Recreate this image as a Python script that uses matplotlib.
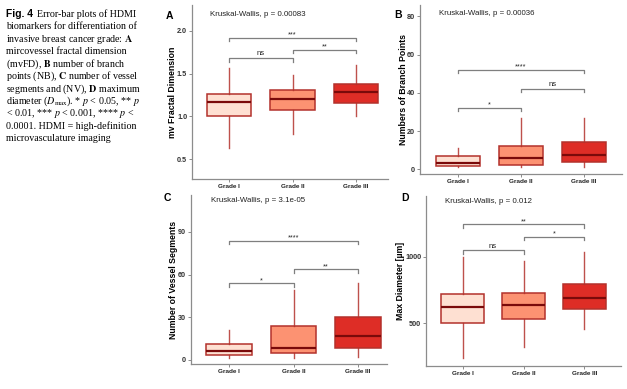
import matplotlib
matplotlib.use("Agg")
from matplotlib import pyplot as plt

plt.rcParams['font.family'] = ['Liberation Sans', 'DejaVu Sans']
plt.rcParams['mathtext.fontset'] = 'stix'

GRADES = ["Grade I", "Grade II", "Grade III"]
FILLS = ["#fee0d2", "#fc9272", "#de2d26"]
EDGE = "#b3322c"
MEDIAN = "#7a0a0a"
AXIS = "#8c8c8c"

# five-number summaries per grade: whisker low, Q1, median, Q3, whisker high
FD_LOW = [0.63, 0.79, 1.00]
FD_Q1 = [1.01, 1.07, 1.16]
FD_MED = [1.17, 1.20, 1.29]
FD_Q3 = [1.26, 1.31, 1.38]
FD_HIGH = [1.56, 1.48, 1.60]

NB_LOW = [1, 1, 1]
NB_Q1 = [1.5, 2, 4]
NB_MED = [3, 6, 7.5]
NB_Q3 = [7, 12, 14.5]
NB_HIGH = [11, 27, 27]

NV_LOW = [1, 1, 2]
NV_Q1 = [3, 5, 8]
NV_MED = [6, 8, 17]
NV_Q3 = [11, 23.5, 30]
NV_HIGH = [21, 49, 54]

MD_LOW = [235, 320, 455]
MD_Q1 = [500, 535, 610]
MD_MED = [622, 640, 688]
MD_Q3 = [718, 730, 793]
MD_HIGH = [1000, 968, 1040]

# pairwise comparisons: (group a, group b, bracket height, label)
FD_PAIRS = [(1, 2, 1.68, "ns"), (2, 3, 1.78, "**"), (1, 3, 1.92, "***")]
NB_PAIRS = [(1, 2, 32, "*"), (2, 3, 42, "ns"), (1, 3, 52, "****")]
NV_PAIRS = [(1, 2, 53.7, "*"), (2, 3, 63.7, "**"), (1, 3, 83.6, "****")]
MD_PAIRS = [(1, 2, 1050, "ns"), (2, 3, 1150, "*"), (1, 3, 1244, "**")]

KW_TEXT = ["Kruskal-Wallis, p = 0.00083", "Kruskal-Wallis, p = 0.00036",
           "Kruskal-Wallis, p = 3.1e-05", "Kruskal-Wallis, p = 0.012"]

CAPTION_HEAD = "Fig. 4"
CAPTION_FIRST = "Error-bar plots of HDMI"
CAPTION_LINES = [
    "biomarkers for differentiation of",
    r"invasive breast cancer grade: $\mathbf{A}$",
    "mircovessel fractal dimension",
    r"(mvFD), $\mathbf{B}$ number of branch",
    r"points (NB), $\mathbf{C}$ number of vessel",
    r"segments and (NV), $\mathbf{D}$ maximum",
    r"diameter ($D_{\mathrm{max}}$). * $p$ < 0.05, ** $p$",
    r"< 0.01, *** $p$ < 0.001, **** $p$ <",
    "0.0001. HDMI = high-definition",
    "microvasculature imaging",
]

W, H = 627, 389
fig = plt.figure(figsize=(W / 100, H / 100), dpi=100)


def px_rect(left, right, bottom, top):
    return [left / W, 1 - bottom / H, (right - left) / W, (bottom - top) / H]


def panel(rect, tag, tag_xy, low, q1, med, q3, high, pairs, kw, kw_xy,
          ylabel, ylab_x, ylim, xlim, yticks, fmt):
    ax = fig.add_axes(rect)
    stats = [dict(whislo=a, q1=b, med=c, q3=d, whishi=e, fliers=[])
             for a, b, c, d, e in zip(low, q1, med, q3, high)]
    res = ax.bxp(stats, positions=[1, 2, 3], widths=0.7, patch_artist=True,
                 showcaps=False, showfliers=False,
                 boxprops=dict(edgecolor=EDGE, linewidth=1.1),
                 medianprops=dict(color=MEDIAN, linewidth=1.6),
                 whiskerprops=dict(color=EDGE, linewidth=1.0, alpha=0.85))
    for box, fill in zip(res['boxes'], FILLS):
        box.set_facecolor(fill)

    span = ylim[1] - ylim[0]
    d = 0.02 * span
    for a, b, y, lab in pairs:
        ax.plot([a, a, b, b], [y - d, y, y, y - d], color="#7f7f7f", lw=0.9)
        off = 0.004 * span if lab == "ns" else -0.004 * span
        ax.text((a + b) / 2, y + off, lab, ha="center", va="bottom",
                fontsize=5.6 if lab == "ns" else 5.2, color="#222222")

    ax.text(kw_xy[0], kw_xy[1], kw, transform=ax.transAxes, ha="left",
            va="center", fontsize=5.7, color="#222222")

    ax.set_xlim(*xlim)
    ax.set_ylim(*ylim)
    ax.set_xticks([1, 2, 3])
    ax.set_xticklabels(GRADES, fontsize=4.6, fontweight="bold", color="#222222")
    ax.set_yticks(yticks)
    ax.set_yticklabels([fmt.format(v) for v in yticks], fontsize=5.2,
                       fontweight="bold", color="#333333")
    ax.tick_params(length=2, width=0.7, color=AXIS, pad=1.5)
    for s in ("top", "right"):
        ax.spines[s].set_visible(False)
    for s in ("left", "bottom"):
        ax.spines[s].set_color(AXIS)
        ax.spines[s].set_linewidth(0.9)
    ax.set_ylabel(ylabel, fontsize=6.3, fontweight="bold", va="center")
    ax.yaxis.set_label_coords(ylab_x, 0.5)
    fig.text(tag_xy[0] / W, 1 - tag_xy[1] / H, tag, fontsize=7.5,
             fontweight="bold", ha="left", va="center")
    return ax


panel(px_rect(192, 388, 179, 5), "A", (166, 16), FD_LOW, FD_Q1, FD_MED, FD_Q3,
      FD_HIGH, FD_PAIRS, KW_TEXT[0], (0.09, 0.948), "mv Fractal Dimension",
      -0.10, (0.27, 2.3), (0.42, 3.5), [0.5, 1.0, 1.5, 2.0], "{:.1f}")
panel(px_rect(420, 622, 174, 5), "B", (394, 15), NB_LOW, NB_Q1, NB_MED, NB_Q3,
      NB_HIGH, NB_PAIRS, KW_TEXT[1], (0.094, 0.95), "Numbers of Branch Points",
      -0.084, (-2.5, 86), (0.4, 3.6), [0, 20, 40, 60, 80], "{:d}")
panel(px_rect(191, 387, 364, 195), "C", (164, 198), NV_LOW, NV_Q1, NV_MED,
      NV_Q3, NV_HIGH, NV_PAIRS, KW_TEXT[2], (0.10, 0.966),
      "Number of Vessel Segments", -0.09, (-3, 116), (0.41, 3.45),
      [0, 30, 60, 90], "{:d}")
panel(px_rect(426, 621, 366, 196), "D", (401, 198), MD_LOW, MD_Q1, MD_MED,
      MD_Q3, MD_HIGH, MD_PAIRS, KW_TEXT[3], (0.099, 0.965),
      "Max Diameter [\u00b5m]", -0.132, (178, 1458), (0.4, 3.6),
      [500, 1000], "{:d}")

# caption block
base = 16.7
step = 12.43
fig.text(6 / W, 1 - base / H, CAPTION_HEAD, fontsize=7.4, fontweight="bold",
         va="baseline", ha="left")
fig.text(37 / W, 1 - base / H, CAPTION_FIRST, fontsize=7.2,
         family="Liberation Serif", va="baseline", ha="left")
for i, line in enumerate(CAPTION_LINES):
    fig.text(6 / W, 1 - (base + step * (i + 1)) / H, line, fontsize=7.2,
             family="Liberation Serif", va="baseline", ha="left")

fig.savefig("out.png", dpi=100)
